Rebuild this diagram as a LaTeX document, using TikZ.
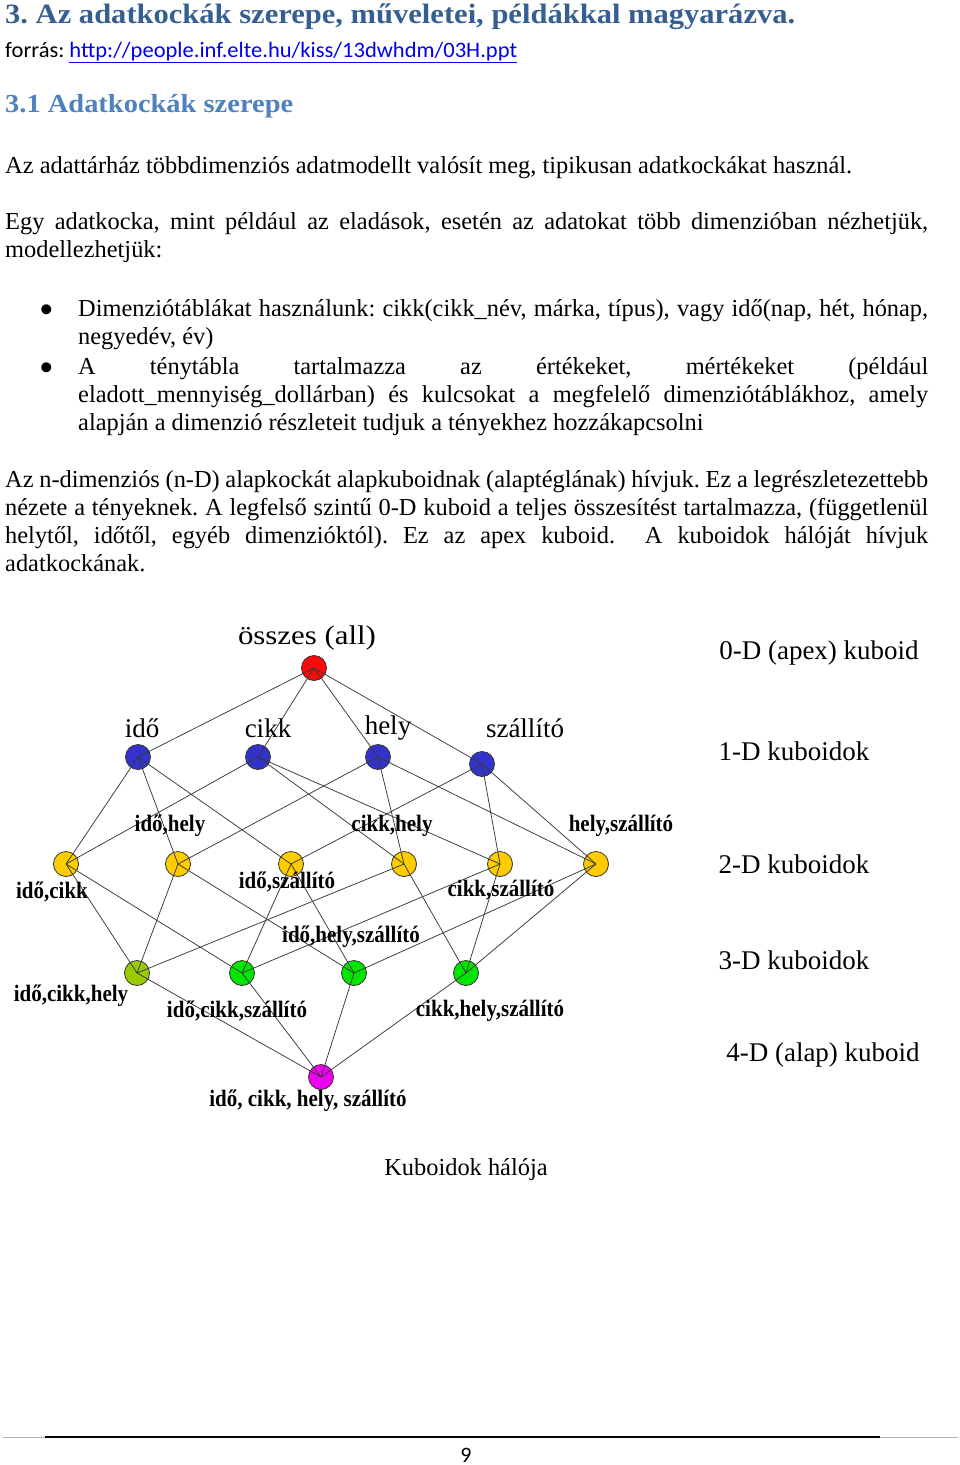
\documentclass[tikz,border=0pt]{standalone}
\usepackage{fontspec}
\setmainfont{Liberation Serif}
\newfontfamily\calfont{Carlito}
\usepackage{graphicx}
\frenchspacing
\definecolor{hOne}{RGB}{54,95,145}
\definecolor{hTwo}{RGB}{79,129,189}
\definecolor{urlblue}{RGB}{0,0,238}
\definecolor{cRed}{RGB}{250,10,10}
\definecolor{cBlue}{RGB}{51,51,204}
\definecolor{cYellow}{RGB}{255,204,0}
\definecolor{cOlive}{RGB}{153,204,0}
\definecolor{cGreen}{RGB}{0,230,0}
\definecolor{cMagenta}{RGB}{240,0,240}
\newcommand{\tall}[1]{\scalebox{1}[1.12]{#1}}
\begin{document}
\begin{tikzpicture}[x=1pt,y=-1pt,
  body/.style={anchor=base west, inner sep=0pt, font=\fontsize{24.4}{28}\selectfont},
  lbl/.style={inner sep=0pt, font=\fontsize{27}{30}\selectfont},
  blbl/.style={inner sep=0pt, font=\fontsize{21}{24}\selectfont\bfseries},
  cube/.style={circle, draw=black!80, line width=0.8pt, minimum size=25pt, inner sep=0pt},
  conn/.style={draw=black!78, line width=0.75pt}]
\useasboundingbox (0,0) rectangle (960,1465);

% headings
\node[anchor=base west, inner sep=0pt, text=hOne, font=\fontsize{28}{30}\selectfont\bfseries] (title) at (5,23)
  {\resizebox{790pt}{\height}{3. Az adatkockák szerepe, műveletei, példákkal magyarázva.}};
\node[anchor=base west, inner sep=0pt, font=\calfont\fontsize{22}{24}\selectfont] (src) at (5,57)
  {\resizebox{512pt}{\height}{forrás: \textcolor{urlblue}{\underline{http://people.inf.elte.hu/kiss/13dwhdm/03H.ppt}}}};
\node[anchor=base west, inner sep=0pt, text=hTwo, font=\fontsize{26}{28}\selectfont\bfseries] (sec) at (5,112)
  {\resizebox{288pt}{\height}{3.1 Adatkockák szerepe}};

% body text
\node[body] (l1) at (5,173) {Az adattárház többdimenziós adatmodellt valósít meg, tipikusan adatkockákat használ.};
\node[body] (l2) at (5,229) {\makebox[923pt][s]{Egy adatkocka, mint például az eladások, esetén az adatokat több dimenzióban nézhetjük,}};
\node[body] (l3) at (5,257) {modellezhetjük:};
\node[body, anchor=center] (b1) at (47,314) {\scalebox{1.7}{•}};
\node[body] (l4) at (78,316) {\makebox[850pt][s]{Dimenziótáblákat használunk: cikk(cikk\_név, márka, típus), vagy idő(nap, hét, hónap,}};
\node[body] (l5) at (78,344) {negyedév, év)};
\node[body, anchor=center] (b2) at (47,372) {\scalebox{1.7}{•}};
\node[body] (l6) at (78,374) {\makebox[850pt][s]{A ténytábla tartalmazza az értékeket, mértékeket (például}};
\node[body] (l7) at (78,402) {\makebox[850pt][s]{eladott\_mennyiség\_dollárban) és kulcsokat a megfelelő dimenziótáblákhoz, amely}};
\node[body] (l8) at (78,430) {alapján a dimenzió részleteit tudjuk a tényekhez hozzákapcsolni};
\node[body] (l9) at (5,487) {\makebox[923pt][s]{Az n-dimenziós (n-D) alapkockát alapkuboidnak (alaptéglának) hívjuk. Ez a legrészletezettebb}};
\node[body] (l10) at (5,515) {\makebox[923pt][s]{nézete a tényeknek. A legfelső szintű 0-D kuboid a teljes összesítést tartalmazza, (függetlenül}};
\node[body] (l11) at (5,543) {\makebox[923pt][s]{helytől, időtől, egyéb dimenzióktól). Ez az apex kuboid.\ \ A kuboidok hálóját hívjuk}};
\node[body] (l12) at (5,571) {adatkockának.};

% lattice nodes
\node[cube, fill=cRed] (all) at (314,668) {};
\node[cube, fill=cBlue] (t) at (138,757) {};
\node[cube, fill=cBlue] (c) at (258,757) {};
\node[cube, fill=cBlue] (h) at (378,757) {};
\node[cube, fill=cBlue] (s) at (482,764) {};
\node[cube, fill=cYellow] (tc) at (66,864) {};
\node[cube, fill=cYellow] (th) at (178,864) {};
\node[cube, fill=cYellow] (ts) at (291,864) {};
\node[cube, fill=cYellow] (ch) at (404,864) {};
\node[cube, fill=cYellow] (cs) at (500,864) {};
\node[cube, fill=cYellow] (hs) at (596,864) {};
\node[cube, fill=cOlive] (tch) at (137,973) {};
\node[cube, fill=cGreen] (tcs) at (242,973) {};
\node[cube, fill=cGreen] (ths) at (354,973) {};
\node[cube, fill=cGreen] (chs) at (466,973) {};
\node[cube, fill=cMagenta] (tchs) at (321,1077) {};

% connectors
\foreach \a/\b in {all/t, all/c, all/h, all/s,
  t/tc, t/th, t/ts, c/tc, c/ch, c/cs, h/th, h/ch, h/hs, s/ts, s/cs, s/hs,
  tc/tch, tc/tcs, th/tch, th/ths, ts/tcs, ts/ths, ch/tch, ch/chs, cs/tcs, cs/chs, hs/ths, hs/chs,
  tch/tchs, tcs/tchs, ths/tchs, chs/tchs}
  \draw[conn] (\a.center) -- (\b.center);

% lattice labels
\node[lbl] (lall) at (307,638) {\resizebox{138pt}{\height}{összes (all)}};
\node[lbl] (lt) at (142,728) {idő};
\node[lbl] (lc) at (268,728) {cikk};
\node[lbl] (lh) at (388,728) {hely};
\node[lbl] (ls) at (525,728) {szállító};
\node[blbl] (lth) at (170,826) {\tall{idő,hely}};
\node[blbl] (lch) at (392,826) {\tall{cikk,hely}};
\node[blbl] (lhs) at (621,826) {\tall{hely,szállító}};
\node[blbl] (ltc) at (52,892) {\tall{idő,cikk}};
\node[blbl] (lts) at (287,882) {\tall{idő,szállító}};
\node[blbl] (lcs) at (501,890) {\tall{cikk,szállító}};
\node[blbl] (lths) at (351,937) {\tall{idő,hely,szállító}};
\node[blbl] (ltch) at (71,996) {\tall{idő,cikk,hely}};
\node[blbl] (ltcs) at (237,1011) {\tall{idő,cikk,szállító}};
\node[blbl] (lchs) at (490,1011) {\tall{cikk,hely,szállító}};
\node[blbl] (ltchs) at (308,1101) {\tall{idő, cikk, hely, szállító}};

% level labels
\node[lbl] (d0) at (819,653) {0-D (apex) kuboid};
\node[lbl] (d1) at (794,751) {1-D kuboidok};
\node[lbl] (d2) at (794,864) {2-D kuboidok};
\node[lbl] (d3) at (794,960) {3-D kuboidok};
\node[lbl] (d4) at (823,1055) {4-D (alap) kuboid};

% caption
\node[body, anchor=base] (cap) at (466,1175) {Kuboidok hálója};

% footer
\coordinate (fl) at (3,1437);
\coordinate (fr) at (958,1437);
\coordinate (fl2) at (45,1437);
\coordinate (fr2) at (880,1437);
\draw[gray!60, line width=0.8pt] (fl) -- (fr);
\draw[black, line width=1.3pt] (fl2) -- (fr2);
\node[anchor=base, inner sep=0pt, font=\calfont\fontsize{22}{24}\selectfont] (pg) at (466,1462) {9};
\end{tikzpicture}
\end{document}
